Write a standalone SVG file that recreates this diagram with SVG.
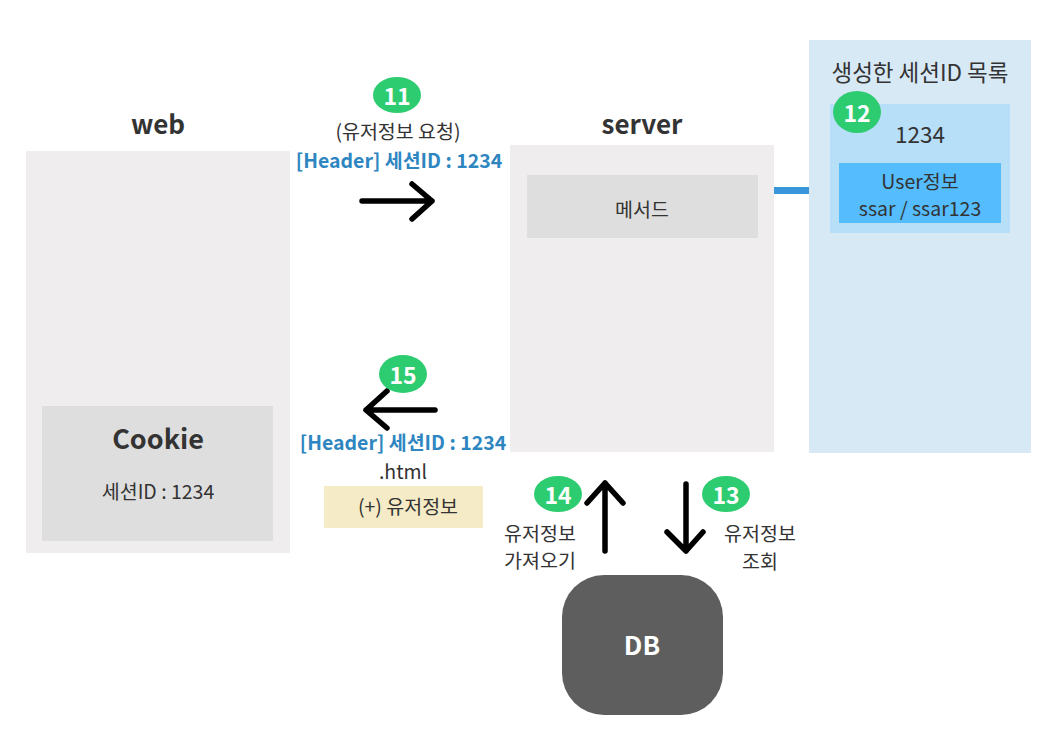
<svg xmlns="http://www.w3.org/2000/svg" width="1050" height="729" viewBox="0 0 1050 729">
<defs>
<style>
text{font-family:"Noto Sans CJK KR","Noto Sans",sans-serif;fill:#333;text-anchor:middle;dominant-baseline:central}
.title{font-size:26px;font-weight:bold}
.t18{font-size:19.5px}
.hdr{font-size:19.5px;font-weight:bold;fill:#2e86c1}
.badge ellipse{fill:#2ecc71}
.badge text{fill:#fff;font-size:23px;font-weight:bold}
.arr{stroke:#000;stroke-width:5.5;fill:none;stroke-linecap:round;stroke-linejoin:round}
</style>
</defs>
<rect width="1050" height="729" fill="#fff"/>
<g id="web">
<text class="title" x="158" y="122">web</text>
<rect x="26" y="151" width="264" height="402" fill="#efeded"/>
</g>
<g id="cookie">
<rect x="42" y="406" width="231" height="135" fill="#dedede"/>
<text class="title" x="158" y="437" style="font-size:27px">Cookie</text>
<text class="t18" x="158" y="490">세션ID : 1234</text>
</g>
<g id="server">
<text class="title" x="642" y="122">server</text>
<rect x="510" y="145" width="264" height="307" fill="#efeded"/>
</g>
<g id="method">
<rect x="527" y="175" width="231" height="63" fill="#dedede"/>
<text class="t18" x="642" y="208">메서드</text>
</g>
<g id="sessions">
<rect x="809" y="40" width="222" height="413" fill="#d8e9f6"/>
<text x="920" y="71" style="font-size:22.5px">생성한 세션ID 목록</text>
<rect x="830" y="104" width="180" height="129" fill="#b7dff8"/>
<text x="920" y="133" style="font-size:22.5px">1234</text>
<rect x="839" y="163" width="162" height="60" fill="#55bcfd"/>
<text class="t18" x="920" y="180">User정보</text>
<text class="t18" x="920" y="207">ssar / ssar123</text>
</g>
<g id="db">
<rect x="562" y="575" width="161" height="140" rx="42" fill="#5e5e5e"/>
<text class="title" x="642" y="643" style="fill:#fff">DB</text>
</g>
<g id="labels">
<text class="t18" x="398" y="130">(유저정보 요청)</text>
<text class="hdr" x="399" y="159">[Header] 세션ID : 1234</text>
<text class="hdr" x="403" y="441">[Header] 세션ID : 1234</text>
<text class="t18" x="403" y="470">.html</text>
<rect x="324" y="486" width="159" height="42" fill="#f5ebc6"/>
<text class="t18" x="408" y="505">(+) 유저정보</text>
<text class="t18" x="540" y="532">유저정보</text>
<text class="t18" x="540" y="559">가져오기</text>
<text class="t18" x="760" y="532">유저정보</text>
<text class="t18" x="760" y="560">조회</text>
</g>
<g id="connectors">
<rect x="774" y="187" width="35" height="7" fill="#3a96db"/>
<path class="arr" d="M362 201H432M412 184L432 201L412 219"/>
<path class="arr" d="M435 410H366M387 391L366 410L387 428"/>
<path class="arr" d="M605 551V483M587 503L605 483L623 503"/>
<path class="arr" d="M686 484V551M667 532L686 551L703 532"/>
</g>
<g id="badges">
<g class="badge"><ellipse cx="397" cy="95" rx="24" ry="18"/><text x="397" y="95">11</text></g>
<g class="badge"><ellipse cx="857" cy="112" rx="24" ry="21"/><text x="857" y="112">12</text></g>
<g class="badge"><ellipse cx="726" cy="494" rx="24" ry="18"/><text x="726" y="494">13</text></g>
<g class="badge"><ellipse cx="558" cy="494" rx="24" ry="18"/><text x="558" y="494">14</text></g>
<g class="badge"><ellipse cx="403" cy="374" rx="24" ry="19"/><text x="403" y="374">15</text></g>
</g>
</svg>
